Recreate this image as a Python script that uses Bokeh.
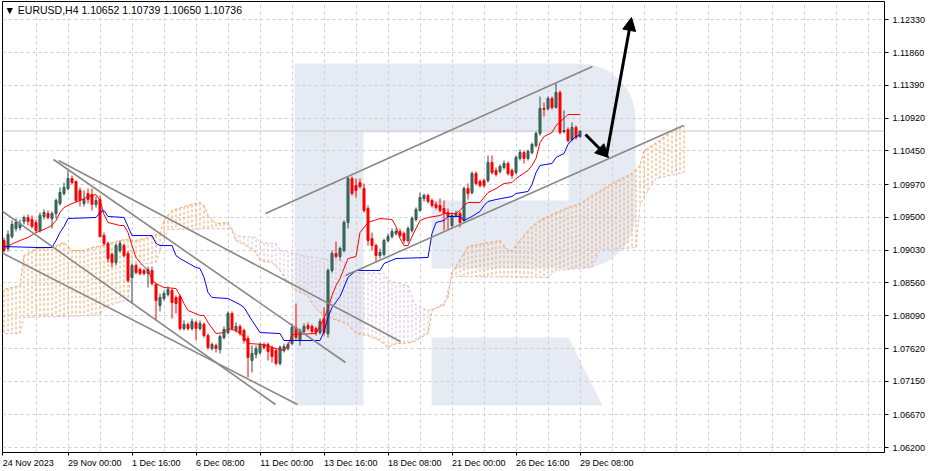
import numpy as np
from bokeh.plotting import figure
from bokeh.models import (Range1d, LinearAxis, FixedTicker, NumeralTickFormatter, CustomJSTickFormatter,
                          Span, Label, Arrow, NormalHead, ColumnDataSource, Grid)
from bokeh.embed import file_html
from bokeh.resources import INLINE

FONT = "Liberation Sans"

# ---------------- data (EURUSD H4, bar 0 = 24 Nov 2023 08:00) ----------------
bar_open = [
    1.09168, 1.09053, 1.09225, 1.09340, 1.09355, 1.09441, 1.09498, 1.09469, 1.09426, 1.09311,
    1.09512, 1.09555, 1.09483, 1.09555, 1.09698, 1.09841, 1.09912, 1.10056, 1.10013, 1.09884,
    1.09698, 1.09841, 1.09827, 1.09684, 1.09755, 1.09239, 1.09125, 1.08968, 1.08853, 1.09025,
    1.09096, 1.08982, 1.08639, 1.08810, 1.08753, 1.08739, 1.08696, 1.08739, 1.08538, 1.08237,
    1.08337, 1.08395, 1.08452, 1.08352, 1.08366, 1.07908, 1.07966, 1.07908, 1.07994, 1.07908,
    1.07966, 1.07807, 1.07621, 1.07664, 1.07607, 1.07779, 1.07850, 1.08123, 1.07879, 1.07937,
    1.07879, 1.07765, 1.07450, 1.07536, 1.07564, 1.07679, 1.07679, 1.07636, 1.07593, 1.07407,
    1.07593, 1.07621, 1.07693, 1.07922, 1.07736, 1.07865, 1.07951, 1.07937, 1.07908, 1.07850,
    1.08051, 1.07836, 1.08739, 1.08982, 1.08939, 1.09025, 1.09426, 1.10056, 1.09955, 1.09998,
    1.09912, 1.09626, 1.09196, 1.09096, 1.08953, 1.08968, 1.09168, 1.09225, 1.09268, 1.09297,
    1.09268, 1.09168, 1.09311, 1.09469, 1.09598, 1.09769, 1.09812, 1.09741, 1.09684, 1.09669,
    1.09626, 1.09569, 1.09383, 1.09526, 1.09555, 1.09455, 1.09912, 1.09855, 1.10128, 1.10013,
    1.10027, 1.10027, 1.10285, 1.10171, 1.10157, 1.10214, 1.10271, 1.10171, 1.10142, 1.10343,
    1.10428, 1.10343, 1.10428, 1.10528, 1.10700, 1.11058, 1.11058, 1.11202, 1.11073, 1.11288,
    1.10729, 1.10757, 1.10614, 1.10786, 1.10652]
bar_high = [
    1.09211, 1.09311, 1.09455, 1.09483, 1.09469, 1.09526, 1.09541, 1.09526, 1.09469, 1.09569,
    1.09612, 1.09598, 1.09584, 1.09769, 1.09927, 1.09998, 1.10171, 1.10099, 1.10027, 1.09927,
    1.09884, 1.09912, 1.09912, 1.09798, 1.09812, 1.09282, 1.09154, 1.08996, 1.09125, 1.09168,
    1.09125, 1.09011, 1.08839, 1.08839, 1.08782, 1.08767, 1.08796, 1.08796, 1.08566, 1.08409,
    1.08452, 1.08509, 1.08481, 1.08380, 1.08395, 1.08023, 1.07994, 1.08051, 1.08023, 1.08023,
    1.07994, 1.07836, 1.07707, 1.07693, 1.07822, 1.07937, 1.08152, 1.08152, 1.07994, 1.07966,
    1.07908, 1.07807, 1.07664, 1.07664, 1.07707, 1.07707, 1.07707, 1.07664, 1.07621, 1.07664,
    1.07693, 1.07707, 1.07980, 1.08266, 1.07908, 1.07980, 1.07994, 1.07966, 1.07937, 1.08051,
    1.08209, 1.08767, 1.09025, 1.09154, 1.09082, 1.09455, 1.10085, 1.10085, 1.10056, 1.10056,
    1.09984, 1.09669, 1.09282, 1.09125, 1.09053, 1.09196, 1.09268, 1.09340, 1.09340, 1.09340,
    1.09297, 1.09369, 1.09512, 1.09641, 1.09855, 1.09841, 1.09841, 1.09769, 1.09727, 1.09769,
    1.09741, 1.09626, 1.09569, 1.09598, 1.09584, 1.09941, 1.09984, 1.10157, 1.10157, 1.10042,
    1.10056, 1.10385, 1.10385, 1.10214, 1.10257, 1.10314, 1.10300, 1.10199, 1.10385, 1.10471,
    1.10457, 1.10471, 1.10571, 1.10729, 1.11230, 1.11144, 1.11230, 1.11230, 1.11416, 1.11316,
    1.11030, 1.10786, 1.10858, 1.10815, 1.10739]
bar_low = [
    1.08996, 1.09011, 1.09196, 1.09297, 1.09311, 1.09398, 1.09383, 1.09340, 1.09282, 1.09282,
    1.09469, 1.09469, 1.09340, 1.09483, 1.09669, 1.09812, 1.09884, 1.09970, 1.09712, 1.09655,
    1.09655, 1.09698, 1.09598, 1.09641, 1.09211, 1.09096, 1.08853, 1.08782, 1.08810, 1.08996,
    1.08925, 1.08566, 1.08266, 1.08682, 1.08667, 1.08667, 1.08495, 1.08523, 1.08023, 1.08152,
    1.08309, 1.08366, 1.08051, 1.08123, 1.07879, 1.07879, 1.07879, 1.07879, 1.07736, 1.07879,
    1.07779, 1.07607, 1.07593, 1.07564, 1.07550, 1.07750, 1.07822, 1.07879, 1.07850, 1.07807,
    1.07693, 1.07207, 1.07278, 1.07479, 1.07536, 1.07607, 1.07450, 1.07421, 1.07378, 1.07378,
    1.07564, 1.07593, 1.07664, 1.07736, 1.07664, 1.07836, 1.07879, 1.07836, 1.07807, 1.07822,
    1.07807, 1.07779, 1.08710, 1.08910, 1.08882, 1.08996, 1.09340, 1.09812, 1.09784, 1.09912,
    1.09569, 1.09096, 1.09025, 1.08853, 1.08910, 1.08939, 1.09139, 1.09196, 1.09239, 1.09211,
    1.09125, 1.09139, 1.09282, 1.09441, 1.09584, 1.09727, 1.09698, 1.09641, 1.09612, 1.09569,
    1.09311, 1.09326, 1.09355, 1.09498, 1.09355, 1.09426, 1.09755, 1.09827, 1.09955, 1.09927,
    1.09927, 1.09998, 1.10114, 1.10085, 1.10128, 1.10185, 1.10099, 1.10056, 1.10114, 1.10314,
    1.10271, 1.10314, 1.10400, 1.10500, 1.10671, 1.10944, 1.11030, 1.11044, 1.11058, 1.10686,
    1.10700, 1.10571, 1.10586, 1.10614, 1.10650]
bar_close = [
    1.09025, 1.09254, 1.09398, 1.09426, 1.09412, 1.09498, 1.09441, 1.09369, 1.09311, 1.09526,
    1.09569, 1.09498, 1.09555, 1.09741, 1.09855, 1.09927, 1.10056, 1.09998, 1.09741, 1.09741,
    1.09755, 1.09755, 1.09684, 1.09741, 1.09225, 1.09125, 1.08910, 1.08853, 1.09096, 1.09125,
    1.08953, 1.08595, 1.08810, 1.08710, 1.08696, 1.08696, 1.08753, 1.08552, 1.08309, 1.08352,
    1.08409, 1.08466, 1.08280, 1.08266, 1.07908, 1.07966, 1.07908, 1.08009, 1.07908, 1.07980,
    1.07807, 1.07636, 1.07679, 1.07621, 1.07793, 1.07894, 1.08123, 1.07908, 1.07937, 1.07836,
    1.07736, 1.07493, 1.07550, 1.07621, 1.07679, 1.07636, 1.07579, 1.07507, 1.07407, 1.07636,
    1.07650, 1.07679, 1.07922, 1.07779, 1.07879, 1.07937, 1.07908, 1.07865, 1.07850, 1.08009,
    1.07850, 1.08739, 1.08982, 1.08939, 1.09053, 1.09426, 1.10056, 1.09841, 1.09884, 1.09941,
    1.09598, 1.09168, 1.09096, 1.08953, 1.08996, 1.09168, 1.09225, 1.09297, 1.09297, 1.09239,
    1.09168, 1.09340, 1.09483, 1.09612, 1.09784, 1.09812, 1.09727, 1.09669, 1.09641, 1.09598,
    1.09555, 1.09512, 1.09526, 1.09555, 1.09426, 1.09912, 1.09841, 1.10128, 1.09984, 1.09955,
    1.09955, 1.10285, 1.10142, 1.10114, 1.10228, 1.10271, 1.10128, 1.10099, 1.10357, 1.10428,
    1.10343, 1.10443, 1.10543, 1.10700, 1.11058, 1.11044, 1.11202, 1.11073, 1.11288, 1.10714,
    1.10743, 1.10600, 1.10786, 1.10643, 1.10736]

# Ichimoku lines (bar index, price)
tenkan_bar = [0, 4, 6, 8, 10, 12, 13, 14, 15, 17, 19, 21, 23, 24, 25, 26, 29, 30, 31, 32,
              33, 34, 36, 37, 38, 40, 43, 44, 45, 46, 49, 50, 51, 53, 55, 56, 58, 60, 61, 65,
              67, 70, 71, 72, 78, 79, 80, 81, 82, 83, 84, 85, 86, 88, 89, 91, 94, 97, 98, 99,
              100, 101, 102, 103, 104, 106, 109, 110, 113, 114, 115, 116, 119, 120, 121, 123, 125, 127, 128, 131,
              132, 133, 134, 135, 137, 138, 140, 141, 144]
tenkan_val = [1.09068, 1.09168, 1.09211, 1.09282, 1.09326, 1.09383, 1.09455, 1.09569, 1.09641, 1.09698,
              1.09741, 1.09798, 1.09827, 1.09741, 1.09541, 1.09426, 1.09383, 1.09383, 1.09282, 1.09096,
              1.08925, 1.08853, 1.08739, 1.08610, 1.08552, 1.08495, 1.08481, 1.08380, 1.08266, 1.08166,
              1.08095, 1.08095, 1.07994, 1.07836, 1.07850, 1.07908, 1.07879, 1.07793, 1.07693, 1.07679,
              1.07636, 1.07593, 1.07664, 1.07822, 1.07836, 1.07951, 1.08051, 1.08195, 1.08380, 1.08523,
              1.08624, 1.08767, 1.08910, 1.08939, 1.09282, 1.09426, 1.09483, 1.09469, 1.09369, 1.09196,
              1.09096, 1.09096, 1.09225, 1.09340, 1.09455, 1.09498, 1.09526, 1.09555, 1.09555, 1.09598,
              1.09669, 1.09712, 1.09712, 1.09784, 1.09855, 1.09912, 1.09984, 1.09998, 1.10056, 1.10171,
              1.10243, 1.10343, 1.10571, 1.10657, 1.10714, 1.10815, 1.10915, 1.10972, 1.10972]
kijun_bar = [0, 8, 12, 13, 14, 15, 16, 23, 24, 25, 26, 30, 31, 32, 37, 38, 39, 42, 43, 44,
             48, 49, 50, 51, 52, 56, 59, 60, 62, 64, 69, 70, 79, 80, 81, 82, 84, 86, 88, 94,
             95, 98, 106, 107, 108, 110, 111, 114, 115, 117, 119, 120, 121, 123, 127, 128, 131, 132, 133, 134,
             137, 138, 140, 141, 142, 144]
kijun_val = [1.09082, 1.09068, 1.09068, 1.09168, 1.09282, 1.09369, 1.09483, 1.09498, 1.09569, 1.09598,
             1.09512, 1.09498, 1.09369, 1.09239, 1.09239, 1.09125, 1.09096, 1.09096, 1.08953, 1.08910,
             1.08782, 1.08767, 1.08639, 1.08424, 1.08352, 1.08337, 1.08251, 1.08209, 1.08023, 1.07850,
             1.07836, 1.07736, 1.07736, 1.07865, 1.08066, 1.08209, 1.08366, 1.08639, 1.08739, 1.08739,
             1.08839, 1.08910, 1.08925, 1.09268, 1.09426, 1.09455, 1.09512, 1.09512, 1.09455, 1.09512,
             1.09584, 1.09669, 1.09727, 1.09755, 1.09798, 1.09841, 1.09870, 1.09970, 1.10142, 1.10243,
             1.10271, 1.10357, 1.10414, 1.10543, 1.10614, 1.10686]
span_a_bar = [-1, 4, 5, 8, 12, 15, 17, 20, 22, 25, 27, 30, 33, 36, 39, 40, 42, 46, 49, 50,
              51, 53, 56, 57, 58, 61, 63, 64, 67, 69, 71, 73, 76, 77, 79, 82, 86, 88, 91, 94,
              96, 98, 102, 106, 107, 110, 111, 112, 113, 116, 124, 126, 127, 129, 132, 134, 137, 141, 144, 147,
              150, 153, 157, 159, 160, 164, 167, 170]
span_a_val = [1.08452, 1.08523, 1.08953, 1.09053, 1.09068, 1.09139, 1.09025, 1.09025, 1.09068, 1.09096,
              1.09139, 1.09182, 1.09168, 1.09211, 1.09268, 1.09455, 1.09598, 1.09669, 1.09712, 1.09669,
              1.09526, 1.09412, 1.09426, 1.09311, 1.09168, 1.09082, 1.08996, 1.08882, 1.08853, 1.08739,
              1.08566, 1.08452, 1.08380, 1.08266, 1.08137, 1.08051, 1.07966, 1.07836, 1.07807, 1.07736,
              1.07636, 1.07693, 1.07707, 1.07836, 1.08166, 1.08266, 1.08352, 1.08710, 1.08796, 1.09082,
              1.09168, 1.09025, 1.09025, 1.09168, 1.09369, 1.09455, 1.09541, 1.09641, 1.09698, 1.09812,
              1.09912, 1.10013, 1.10128, 1.10243, 1.10457, 1.10600, 1.10743, 1.10815]
span_b_bar = [-1, 4, 5, 24, 25, 30, 31, 32, 38, 39, 40, 41, 57, 58, 63, 64, 68, 69, 76, 81,
              85, 86, 95, 96, 101, 102, 103, 106, 110, 111, 112, 136, 138, 147, 149, 158, 159, 161, 163, 170]
span_b_val = [1.07836, 1.07836, 1.08066, 1.08095, 1.08209, 1.08309, 1.08309, 1.08810, 1.08853, 1.09025,
              1.09168, 1.09326, 1.09340, 1.09239, 1.09211, 1.09139, 1.09125, 1.09025, 1.08939, 1.08896,
              1.08868, 1.08710, 1.08696, 1.08595, 1.08523, 1.08352, 1.08237, 1.08166, 1.08237, 1.08452,
              1.08653, 1.08639, 1.08739, 1.08782, 1.09025, 1.09068, 1.09669, 1.09884, 1.10056, 1.10142]

# analyst drawings: (bar0, price0, bar1, price1)
trend_lines = [
    (65.375, 1.09555, 147.125, 1.11660),
    (85.375, 1.08667, 169.875, 1.10815),
    (12.375, 1.10328, 85.375, 1.07421),
    (13.625, 1.10314, 99.125, 1.07722),
    (-2.125, 1.09655, 67.875, 1.06820),
    (-2.125, 1.09039, 73.375, 1.06820),
]
arrows = [
    (145.375, 1.10686, 151.125, 1.10357),
    (150.625, 1.10385, 156.875, 1.12362),
]

y_ticks = [1.12330, 1.11860, 1.11390, 1.10920, 1.10450, 1.09970, 1.09500,
           1.09030, 1.08560, 1.08090, 1.07620, 1.07150, 1.06670, 1.06200]
x_tick_bars = [-0.3, 16, 32, 48, 64, 80, 96, 112, 128, 144]
x_tick_labels = ["24 Nov 2023", "29 Nov 00:00", "1 Dec 16:00", "6 Dec 08:00", "11 Dec 00:00",
                 "13 Dec 16:00", "18 Dec 08:00", "21 Dec 00:00", "26 Dec 16:00", "29 Dec 08:00"]
last_price = 1.10736
header = "\u25bc EURUSD,H4  1.10652 1.10739 1.10650 1.10736"

# ---------------- screen helpers (layout only) ----------------
def bx(px):
    return (px - 3.5) / 4.0

def py2p(py):
    return 1.12605 - 0.0001432 * py

p = figure(width=931, height=471, output_backend="svg", toolbar_location=None,
           x_range=Range1d(bx(2), bx(884)), y_range=Range1d(py2p(452), py2p(1)),
           x_axis_location=None, y_axis_location=None,
           min_border_left=2, min_border_right=47, min_border_top=1, min_border_bottom=19,
           background_fill_color="white", border_fill_color="white",
           outline_line_color="black", outline_line_width=1)

p.center = [r for r in p.center if not isinstance(r, Grid)]
p.add_layout(Grid(dimension=0, ticker=FixedTicker(ticks=list(range(8, 221, 8))),
                  grid_line_color="#cfcfcf", grid_line_dash="3 3", grid_line_width=1))
p.add_layout(Grid(dimension=1, ticker=FixedTicker(ticks=y_ticks),
                  grid_line_color="#cfcfcf", grid_line_dash="3 3", grid_line_width=1))

# watermark logo (screen-anchored decoration)
logo = [(294, 63), (580, 63)]
for t in np.linspace(90, 0, 12)[1:]:
    logo.append((580 + 55 * np.cos(np.radians(t)), 118 - 55 * np.sin(np.radians(t))))
for t in np.linspace(0, 90, 12):
    logo.append((580 + 55 * np.cos(np.radians(t)), 213 + 55 * np.sin(np.radians(t))))
logo += [(431, 268), (431, 200), (568, 200), (568, 132), (363, 132), (363, 405), (294, 405)]
leg = [(431, 337), (568, 337), (602, 405), (431, 405)]
for poly in (logo, leg):
    p.patch([bx(a) for a, b in poly], [py2p(b) for a, b in poly],
            fill_color="#e6ebf3", line_color=None, level="image")

# bid line
p.add_layout(Span(location=last_price, dimension="width", line_color="#c8c8c8",
                  line_width=1, level="underlay"))

# cloud: dotted vertical strokes at every bar between span A and span B
hb = np.arange(-1, 171)
ha = np.interp(hb, span_a_bar, span_a_val)
hbv = np.interp(hb, span_b_bar, span_b_val)
hsrc = ColumnDataSource(dict(x=hb, a=ha, b=hbv,
                             col=np.where(ha >= hbv, "#F4A460", "#D8BFD8")))
p.segment(x0="x", y0="a", x1="x", y1="b", source=hsrc, line_color="col",
          line_width=1, line_dash="3 2")
p.line(span_a_bar, span_a_val, line_color="#F4A460", line_width=1, line_dash="3 2")
p.line(span_b_bar, span_b_val, line_color="#D8BFD8", line_width=1, line_dash="3 2")

# candles
o = np.array(bar_open); h = np.array(bar_high); l = np.array(bar_low); c = np.array(bar_close)
idx = np.arange(len(c))
up = c >= o
for mask, fill, line in ((up, "#3d8566", "#2f4f4f"), (~up, "#ff0000", "#ff0000")):
    src = ColumnDataSource(dict(x=idx[mask], hi=h[mask], lo=l[mask],
                                top=np.maximum(o, c)[mask], bot=np.minimum(o, c)[mask]))
    p.segment(x0="x", y0="lo", x1="x", y1="hi", source=src, line_color=line, line_width=1)
    p.vbar(x="x", top="top", bottom="bot", width=0.5, source=src,
           fill_color=fill, line_color=line, line_width=1)

p.line(tenkan_bar, tenkan_val, line_color="#ff0000", line_width=1)
p.line(kijun_bar, kijun_val, line_color="#0000ff", line_width=1)

# drawings
p.segment(x0=[t[0] for t in trend_lines], y0=[t[1] for t in trend_lines],
          x1=[t[2] for t in trend_lines], y1=[t[3] for t in trend_lines],
          line_color="#888888", line_width=1.6)
for a in arrows:
    p.add_layout(Arrow(end=NormalHead(size=13, fill_color="black", line_color="black"),
                       x_start=a[0], y_start=a[1], x_end=a[2], y_end=a[3],
                       line_color="black", line_width=3))

# axes
yax = LinearAxis(ticker=FixedTicker(ticks=y_ticks), formatter=NumeralTickFormatter(format="0.00000"),
                 axis_line_color=None, major_tick_out=4, major_tick_in=0,
                 minor_tick_out=0, minor_tick_in=0, major_tick_line_color="black",
                 major_label_standoff=4, major_label_text_font=FONT,
                 major_label_text_font_size="9px", major_label_text_color="black")
p.add_layout(yax, "right")

tick_ax = LinearAxis(ticker=FixedTicker(ticks=x_tick_bars),
                     formatter=CustomJSTickFormatter(code="return ''"),
                     axis_line_color=None, major_tick_out=3, major_tick_in=0,
                     minor_tick_out=0, minor_tick_in=0, major_tick_line_color="black",
                     major_label_standoff=0, major_label_text_font_size="1px")
p.add_layout(tick_ax, "below")

cw = {d: 0.556 for d in "0123456789"}
cw.update({" ": 0.278, ":": 0.278, "N": 0.722, "D": 0.722, "o": 0.556, "v": 0.5, "e": 0.556, "c": 0.5})
centers = [round(t + sum(cw.get(ch, 0.55) for ch in s) * 9 / 2 / 4.0, 3)
           for t, s in zip(x_tick_bars, x_tick_labels)]
lab_ax = LinearAxis(ticker=FixedTicker(ticks=centers),
                    major_label_overrides={cc: s for cc, s in zip(centers, x_tick_labels)},
                    axis_line_color=None, major_tick_out=0, major_tick_in=0,
                    minor_tick_out=0, minor_tick_in=0, major_tick_line_color=None,
                    major_label_standoff=2, major_label_text_font=FONT,
                    major_label_text_font_size="9px", major_label_text_color="black")
p.add_layout(lab_ax, "below")

# header and price tag
p.add_layout(Label(x=bx(4), y=py2p(9), text=header, text_font=FONT, text_font_size="10.5px",
                   text_color="black", text_baseline="middle", text_align="left",
                   background_fill_color="white"))
p.add_layout(Label(x=bx(886), y=last_price, text="1.10736", text_font=FONT, text_font_size="9px",
                   text_color="white", text_baseline="middle", text_align="left",
                   background_fill_color="black", padding=2))

open("out.html", "w").write(file_html(p, INLINE))
